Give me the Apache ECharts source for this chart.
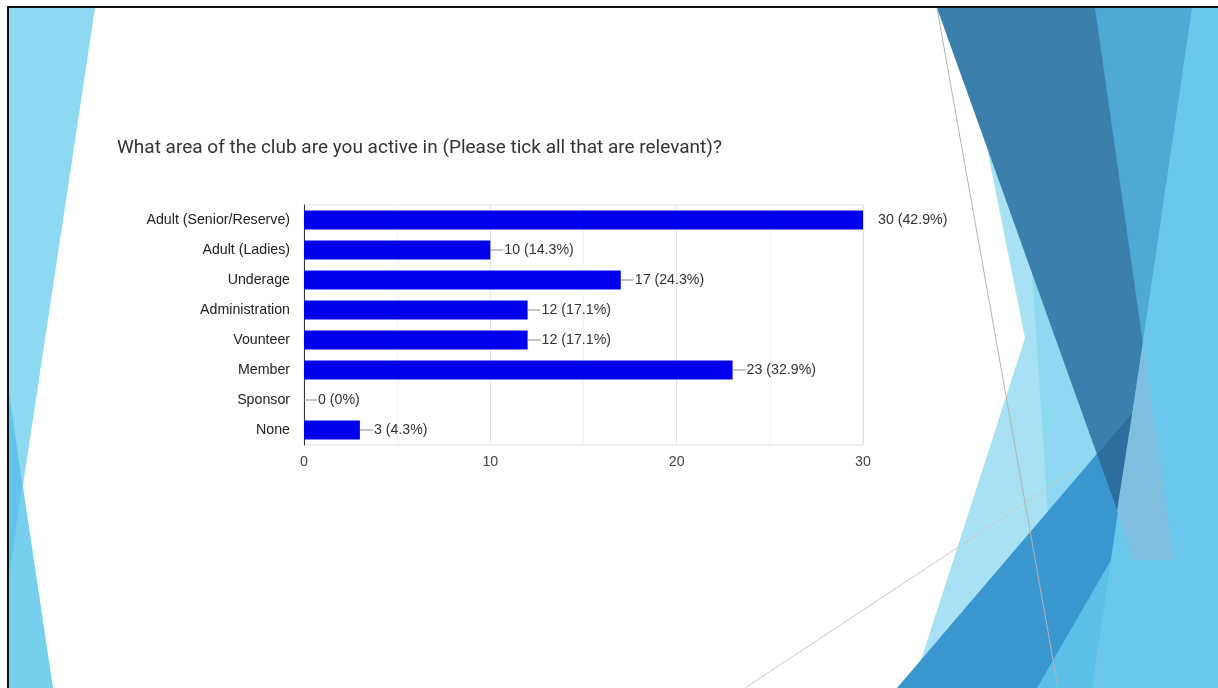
<!DOCTYPE html>
<html>
<head>
<meta charset="utf-8">
<script src="https://cdn.jsdelivr.net/npm/echarts@6/dist/echarts.min.js"></script>
<style>
  html, body { margin: 0; padding: 0; background: #ffffff; }
  #chart { width: 1218px; height: 688px; }
</style>
</head>
<body>
<div id="chart"></div>
<script>
// Survey answers: areas of the club respondents are active in
const categories = [
  'Adult (Senior/Reserve)',
  'Adult (Ladies)',
  'Underage',
  'Administration',
  'Vounteer',
  'Member',
  'Sponsor',
  'None'
];
const counts = [30, 10, 17, 12, 12, 23, 0, 3];
const respondents = 70;
const axisTicks = [0, 10, 20, 30];

const titleText = 'What area of the club are you active in (Please tick all that are relevant)?';

const axisMax = axisTicks[axisTicks.length - 1];

function pctText(v) {
  let s = (v / respondents * 100).toFixed(1);
  if (s.endsWith('.0')) s = s.slice(0, -2);
  return s + '%';
}

// Slide decoration: facet-style triangles
const deco = [
  // left edge
  { pts: [[9, 8], [95, 8], [9, 578]], fill: '#8ed9f2' },
  { pts: [[9, 393], [53, 688], [9, 688]], fill: '#77cfee' },
  { pts: [[9, 393], [22, 485], [9, 577]], fill: '#62c4e8' },
  // right edge
  { pts: [[988, 153], [1025, 338], [912, 688], [1218, 688], [1218, 153]], fill: '#a9e1f4' },
  { pts: [[1032, 273], [1125, 530], [1049, 530]], fill: '#8fd8f2' },
  { pts: [[1085, 8], [1200, 8], [1143, 344]], fill: '#4fa9d5' },
  { pts: [[937, 8], [1095, 8], [1200, 742]], fill: '#3b80ad' },
  { pts: [[897, 688], [1218, 312], [1218, 688]], fill: '#3a96cf' },
  { pts: [[1097, 454], [1150, 392], [1200, 742]], fill: '#2d6e9f' },
  { pts: [[1218, 375], [1037, 688], [1218, 688]], fill: '#5bbfe8' },
  { pts: [[1192, 8], [1218, 8], [1218, 688], [1092, 688]], fill: '#68c7ea' },
  { pts: [[1143, 344], [1117, 511], [1134, 560], [1174, 560]], fill: '#80bee0' }
];

const graphics = deco.map(d => ({
  type: 'polygon',
  z: -20,
  silent: true,
  shape: { points: d.pts },
  style: { fill: d.fill }
}));
graphics.push(
  { type: 'line', z: -10, silent: true, shape: { x1: 937, y1: 8, x2: 1058, y2: 688 }, style: { stroke: '#b3b3b3', lineWidth: 1 } },
  { type: 'line', z: -10, silent: true, shape: { x1: 745, y1: 688, x2: 1075, y2: 470 }, style: { stroke: '#c9c9c9', lineWidth: 1 } },
  // slide frame
  { type: 'rect', z: 50, silent: true, shape: { x: 7, y: 6, width: 1211, height: 2 }, style: { fill: '#111111' } },
  { type: 'rect', z: 50, silent: true, shape: { x: 7, y: 6, width: 2, height: 682 }, style: { fill: '#111111' } }
);

const font = '"Liberation Sans", Arial, sans-serif';
const fs = 14.2;

const barData = counts.map(v => ({
  value: v,
  label: {
    formatter: v >= axisMax
      ? '{gap|}{t|' + v + ' (' + pctText(v) + ')}'
      : '{lead|}{t|' + v + ' (' + pctText(v) + ')}'
  }
}));

const chart = echarts.init(document.getElementById('chart'), null, { renderer: 'canvas' });
chart.setOption({
  backgroundColor: '#ffffff',
  animation: false,
  title: {
    text: titleText,
    left: 112,
    top: 134,
    textStyle: { fontFamily: 'Roboto, sans-serif', fontSize: 19, fontWeight: 'normal', color: '#333333' }
  },
  graphic: graphics,
  grid: { left: 304, top: 205, width: 559, height: 240, show: true, borderColor: '#e4e4e4', borderWidth: 1, backgroundColor: 'transparent' },
  xAxis: {
    type: 'value',
    min: 0,
    max: axisMax,
    interval: 5,
    axisLine: { show: false },
    axisTick: { show: false },
    splitLine: { show: true, lineStyle: { color: ['#e2e2e2', '#f1f1f1'], width: 1 } },
    axisLabel: {
      margin: 10,
      fontFamily: font,
      fontSize: fs,
      color: '#444444',
      formatter: v => (axisTicks.indexOf(v) >= 0 ? String(v) : '')
    }
  },
  yAxis: {
    type: 'category',
    inverse: true,
    data: categories,
    axisLine: { show: true, lineStyle: { color: '#333333', width: 1 } },
    axisTick: { show: false },
    axisLabel: { margin: 14, fontFamily: font, fontSize: fs, color: '#222222' }
  },
  series: [{
    type: 'bar',
    data: barData,
    barWidth: 19,
    itemStyle: { color: '#0000ee' },
    label: {
      show: true,
      position: 'right',
      distance: 0,
      fontFamily: font,
      fontSize: fs,
      color: '#333333',
      rich: {
        lead: { width: 13, height: 1, backgroundColor: '#8a8a8a' },
        gap: { width: 14, height: 1 },
        t: { fontFamily: font, fontSize: fs, color: '#333333', padding: [0, 0, 0, 1] }
      }
    }
  }]
});
</script>
</body>
</html>
